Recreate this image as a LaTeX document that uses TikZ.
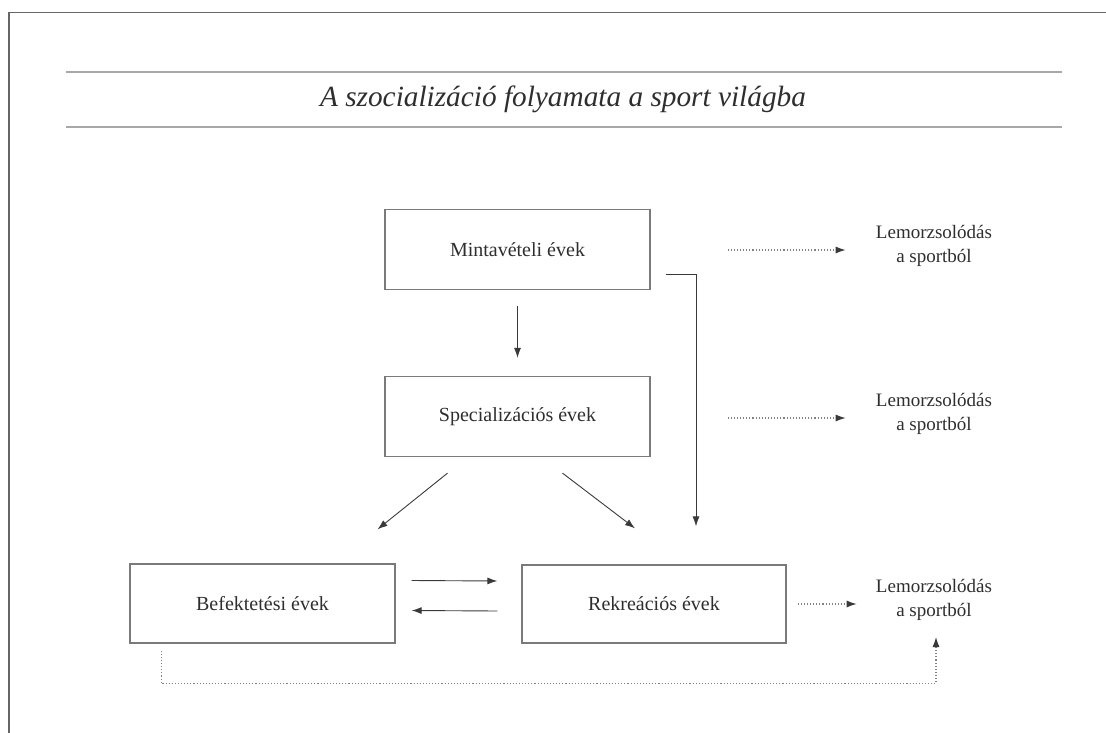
\documentclass[tikz,border=0pt]{standalone}
\usepackage{fontspec}
\setmainfont{Liberation Serif}
\usetikzlibrary{arrows.meta,calc}
\definecolor{framec}{HTML}{666666}
\definecolor{rulec}{HTML}{A8A8A8}
\definecolor{boxc}{HTML}{7A7A7A}
\definecolor{arrc}{HTML}{3A3A3A}
\definecolor{txtc}{HTML}{2E2E2E}
\definecolor{dotc}{HTML}{808080}
\tikzset{
  stagebox/.style={draw=boxc, line width=1.3pt, minimum width=265pt, minimum height=80pt, inner sep=0pt, font=\fontsize{20}{24}\selectfont, text=txtc},
  droptext/.style={align=center, inner sep=0pt, font=\fontsize{19}{24}\selectfont, text=txtc},
  arr/.style={draw=arrc, line width=0.9pt, -{Latex[length=10pt,width=7pt]}},
  dotarr/.style={draw=dotc, line width=1.1pt, dotted, -{Latex[length=10pt,width=7pt,fill=arrc,color=arrc]}},
}
\begin{document}
\begin{tikzpicture}[x=1pt,y=-1pt]
\useasboundingbox (0,0) rectangle (1106,733);
% frame (left and top)
\draw[framec, line width=1.5pt] (9,733) -- (9,12.5) -- (1106,12.5);
% title rules
\draw[rulec, line width=2pt] (66,72.5) -- (1062,72.5);
\draw[rulec, line width=2pt] (66,127.5) -- (1062,127.5);
\node[font=\fontsize{29.3}{33}\selectfont\itshape, text=txtc] (title) at (563,99) {A szocializáció folyamata a sport világba};
% stages
\node[stagebox] (minta) at (517.5,249.5) {Mintavételi évek};
\node[stagebox] (spec) at (517.5,416.5) {Specializációs évek};
\node[stagebox, minimum width=265pt, minimum height=79pt] (bef) at (262.5,603.5) {Befektetési évek};
\node[stagebox, minimum width=264pt, minimum height=78pt] (rek) at (654,604) {Rekreációs évek};
% drop-out texts
\node[droptext] (drop1) at (934,246) {Lemorzsolódás\\a sportból};
\node[droptext] (drop2) at (934,414) {Lemorzsolódás\\a sportból};
\node[droptext] (drop3) at (934,600) {Lemorzsolódás\\a sportból};
\coordinate (tip3) at (936,637);
% solid arrows
\draw[arr] ($(minta.south)+(0,16)$) -- ($(spec.north)+(0,-18)$);
\draw[arr] ($(spec.south)+(-70,16)$) -- ($(bef.north)+(115,-34)$);
\draw[arr] ($(spec.south)+(45,16)$) -- ($(rek.north)+(-19,-36)$);
\draw[arr] ($(minta.south east)+(15,-16)$) -| ($(rek.north)+(42,-38)$);
\draw[arr] ($(bef.east)+(16,-23)$) -- ($(rek.west)+(-24,-23)$);
\draw[arr] ($(rek.west)+(-24,7)$) -- ($(bef.east)+(16,7)$);
% dotted arrows
\draw[dotarr] ($(minta.east)+(77,0.5)$) -- ($(minta.east)+(195,0.5)$);
\draw[dotarr] ($(spec.east)+(77,1.5)$) -- ($(spec.east)+(195,1.5)$);
\draw[dotarr] ($(rek.east)+(11,0)$) -- ($(rek.east)+(70,0)$);
\draw[dotarr] ($(bef.south west)+(32,7)$) -- ++(0,33) -| (tip3);
\end{tikzpicture}
\end{document}
